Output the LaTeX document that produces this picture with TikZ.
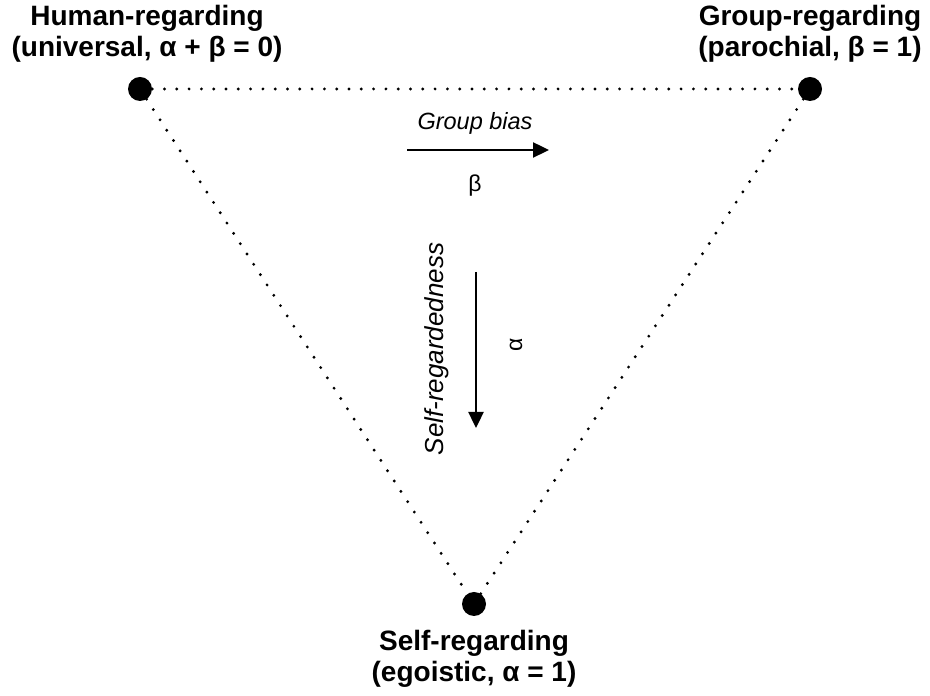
\documentclass[tikz,border=0pt]{standalone}
\usepackage{fontspec}
\setmainfont{Liberation Sans}
\usetikzlibrary{arrows.meta}

\tikzset{
  corner/.style={circle,fill=black,inner sep=0pt,minimum size=24pt},
  cornerlabel/.style={align=center,font=\fontsize{28}{31}\selectfont\bfseries,inner sep=0pt},
  axislabel/.style={font=\fontsize{23.5}{27}\selectfont\itshape,inner sep=0pt},
  symlabel/.style={font=\fontsize{23}{27}\selectfont,inner sep=0pt},
  edge/.style={line width=3.2pt,line cap=round,dash pattern=on 0pt off 12.3pt},
  axis/.style={line width=2.4pt,-{Triangle[length=16pt,width=15pt]}}
}

\begin{document}
\begin{tikzpicture}[x=1pt,y=1pt]
\useasboundingbox (0,0) rectangle (930,696);
\node[corner] (human) at (140,607) {};
\node[corner] (group) at (810,607) {};
\node[corner] (self) at (474,92) {};
\node[cornerlabel] (humanlabel) at (147,662) {Human-regarding\\(universal, α + β = 0)};
\node[cornerlabel] (grouplabel) at (810,662) {Group-regarding\\(parochial, β = 1)};
\node[cornerlabel] (selflabel) at (474,37) {Self-regarding\\(egoistic, α = 1)};
\draw[edge] (human) -- (group);
\draw[edge] (human) -- (self);
\draw[edge] (group) -- (self);
% group bias
\coordinate (b0) at (407,546);
\coordinate (b1) at (549,546);
\draw[axis] (b0) -- (b1);
\node[axislabel] (biaslabel) at (475,573) {Group bias};
\node[symlabel] (beta) at (475,510) {β};
% self-regardedness
\coordinate (a0) at (476,424);
\coordinate (a1) at (476,268);
\draw[axis] (a0) -- (a1);
\node[axislabel,font=\fontsize{26}{30}\selectfont\itshape,rotate=90] (selflab) at (437,347) {Self-regardedness};
\node[symlabel,rotate=90] (alpha) at (516,351) {α};
\end{tikzpicture}
\end{document}
